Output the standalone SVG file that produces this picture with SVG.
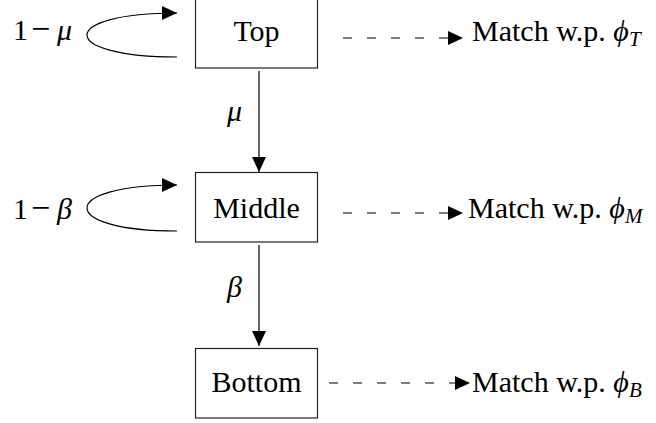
<svg xmlns="http://www.w3.org/2000/svg" width="656" height="423" viewBox="0 0 656 423">
<defs>
<style>
.box{fill:#fff;stroke:#222;stroke-width:1.2}
.lbl{font-family:"Liberation Serif","DejaVu Serif",serif;font-size:30px;fill:#000}
.it{font-style:italic}
.sub{font-style:italic;font-size:21px}
.edge{fill:none;stroke:#000;stroke-width:1.2}
.dash{stroke-dasharray:9 15}
</style>
<marker id="ah" viewBox="0 0 15 14" refX="15" refY="7" markerWidth="15" markerHeight="14" markerUnits="userSpaceOnUse" orient="auto">
<path d="M0,0 L15,7 L0,14 Z" fill="#000"/>
</marker>
</defs>
<rect width="656" height="423" fill="#fff"/>
<g id="connectors">
<path class="edge" d="M177,57 C57,57 57,13 177,13" marker-end="url(#ah)"/>
<path class="edge" d="M177,231 C57,231 57,185 177,185" marker-end="url(#ah)"/>
<path class="edge" d="M259,71 L259,172" marker-end="url(#ah)"/>
<path class="edge" d="M259,245 L259,346" marker-end="url(#ah)"/>
<path class="edge dash" d="M343,38 L463,38" marker-end="url(#ah)"/>
<path class="edge dash" d="M343,213 L463,213" marker-end="url(#ah)"/>
<path class="edge dash" d="M329,383 L470,383" marker-end="url(#ah)"/>
<text class="lbl"><tspan x="13" y="40">1</tspan><tspan x="31" y="40" font-size="34">−</tspan><tspan class="it" x="57" y="40">μ</tspan></text>
<text class="lbl"><tspan x="13" y="219">1</tspan><tspan x="31" y="219" font-size="34">−</tspan><tspan class="it" x="57" y="219">β</tspan></text>
<text class="lbl it" x="227" y="121">μ</text>
<text class="lbl it" x="227" y="297">β</text>
</g>
<g id="top">
<rect class="box" x="195.5" y="-1.5" width="122" height="69.5"/>
<text class="lbl" x="256.5" y="41" text-anchor="middle">Top</text>
</g>
<g id="middle">
<rect class="box" x="195.5" y="172.5" width="122" height="69.5"/>
<text class="lbl" x="256.5" y="218" text-anchor="middle">Middle</text>
</g>
<g id="bottom">
<rect class="box" x="195.5" y="348.5" width="122" height="69.5"/>
<text class="lbl" x="256.5" y="392" text-anchor="middle">Bottom</text>
</g>
<g id="matchT">
<text class="lbl" x="472" y="41">Match w.p. <tspan class="it">ϕ</tspan><tspan class="sub" dy="5">T</tspan></text>
</g>
<g id="matchM">
<text class="lbl" x="468" y="218">Match w.p. <tspan class="it">ϕ</tspan><tspan class="sub" dy="5">M</tspan></text>
</g>
<g id="matchB">
<text class="lbl" x="472" y="392">Match w.p. <tspan class="it">ϕ</tspan><tspan class="sub" dy="5">B</tspan></text>
</g>
</svg>
